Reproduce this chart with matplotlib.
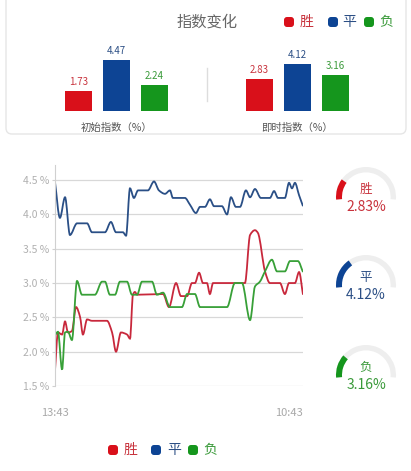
import matplotlib
matplotlib.use('Agg')
import matplotlib.pyplot as plt
from matplotlib.patches import FancyBboxPatch, Wedge, PathPatch
from matplotlib.path import Path

plt.rcParams['font.family'] = ['Noto Sans CJK SC', 'DejaVu Sans']

# series names and colours
names = ['胜', '平', '负']
bar_colors = ['#d9101a', '#0d4494', '#15961d']
text_colors = ['#c8323c', '#2c4f85', '#3a9a3a']
line_colors = ['#c8283c', '#2a4f86', '#38a038']

# bar values
init_vals = [1.73, 4.47, 2.24]
live_vals = [2.83, 4.12, 3.16]
group_labels = ['初始指数（%）', '即时指数（%）']

# time series, minutes after 13:43
red_t = [0, 15, 36, 51, 66, 86, 107, 127, 142, 163, 188, 264, 290, 310, 335, 366, 381, 396, 406, 417,
         549, 579, 615, 640, 671, 696, 711, 732, 752, 772, 787, 803, 965, 991, 1016, 1031, 1067, 1092,
         1143, 1168, 1189, 1219, 1240, 1260]
red_v = [1.73, 2.28, 2.25, 2.44, 2.28, 2.30, 2.65, 2.51, 2.25, 2.47, 2.45, 2.45, 2.28, 2.00, 2.28, 2.25, 2.19, 2.83, 2.87, 2.83,
         2.84, 2.65, 3.00, 2.81, 2.81, 3.00, 3.00, 3.15, 3.00, 3.00, 2.84, 3.00, 3.00, 3.70, 3.77, 3.73, 3.17, 3.00,
         3.00, 2.84, 3.00, 3.00, 3.16, 2.83]

blue_t = [0, 25, 51, 76, 112, 163, 188, 254, 284, 310, 345, 361, 381, 401, 422, 472, 503, 528, 559, 584,
          599, 660, 686, 716, 737, 762, 787, 808, 848, 874, 894, 919, 940, 970, 991, 1016, 1046, 1092, 1113, 1133,
          1168, 1189, 1204, 1219, 1240, 1260]
blue_v = [4.47, 3.95, 4.25, 3.70, 3.87, 3.87, 3.74, 3.74, 3.89, 3.74, 3.74, 3.69, 4.38, 4.24, 4.35, 4.35, 4.48, 4.35, 4.30, 4.35,
          4.24, 4.24, 4.14, 4.02, 4.11, 4.11, 4.22, 4.12, 4.12, 4.00, 4.25, 4.11, 4.11, 4.35, 4.25, 4.37, 4.24, 4.24, 4.34, 4.24,
          4.24, 4.46, 4.38, 4.46, 4.28, 4.12]

green_t = [0, 15, 36, 51, 66, 86, 112, 137, 203, 239, 254, 279, 305, 330, 366, 391, 417, 442, 493, 518,
           549, 584, 645, 671, 711, 737, 874, 914, 950, 991, 1016, 1041, 1067, 1102, 1128, 1168, 1194, 1234, 1260]
green_v = [2.24, 2.29, 1.74, 2.28, 2.29, 2.17, 3.03, 2.83, 2.83, 3.02, 3.02, 2.83, 2.83, 3.02, 3.02, 2.83, 2.83, 3.02, 3.02, 2.83,
           2.86, 2.65, 2.65, 2.84, 2.84, 2.65, 2.65, 3.00, 3.00, 2.46, 2.95, 3.02, 3.17, 3.34, 3.17, 3.17, 3.32, 3.32, 3.16]

y_ticks = [1.5, 2.0, 2.5, 3.0, 3.5, 4.0, 4.5]
x_ticks = [0, 1260]
x_labels = ['13:43', '10:43']


def smooth_path(t, v):
    # monotone cubic bezier through the points (same look as a smoothed line chart)
    n = len(t)
    d = [(v[i + 1] - v[i]) / (t[i + 1] - t[i]) for i in range(n - 1)]
    m = [d[0]] + [0.0] * (n - 2) + [d[-1]]
    for i in range(1, n - 1):
        if d[i - 1] * d[i] > 0:
            m[i] = 2 / (1 / d[i - 1] + 1 / d[i])
    verts = [(t[0], v[0])]
    codes = [Path.MOVETO]
    for i in range(n - 1):
        h = (t[i + 1] - t[i]) / 3
        verts += [(t[i] + h, v[i] + m[i] * h), (t[i + 1] - h, v[i + 1] - m[i + 1] * h), (t[i + 1], v[i + 1])]
        codes += [Path.CURVE4] * 3
    return Path(verts, codes)


W, H = 411, 471
fig = plt.figure(figsize=(W / 100, H / 100), dpi=100)
fig.patch.set_facecolor('white')

# background layer in pixel coordinates for panel decorations
bg = fig.add_axes([0, 0, 1, 1])
bg.set_xlim(0, W)
bg.set_ylim(H, 0)
bg.axis('off')
bg.add_patch(FancyBboxPatch((6, -10), 400, 144, boxstyle='round,pad=0,rounding_size=6',
                            fc='white', ec='#e6e6e6', lw=1.0))
bg.plot([207, 207], [68, 101], color='#dddddd', lw=1)
bg.text(207, 22, '指数变化', ha='center', va='center', fontsize=11, color='#666666')


def legend_row(ax, xs, y, size):
    for i, (xm, xt) in enumerate(xs):
        ax.add_patch(FancyBboxPatch((xm - 5, y - 5), 10, 10, boxstyle='round,pad=0,rounding_size=3',
                                    fc=bar_colors[i], ec='none'))
        ax.text(xt, y, names[i], ha='center', va='center', fontsize=size, color=text_colors[i])


legend_row(bg, [(289, 307), (333, 349), (369, 386)], 22, 10)
legend_row(bg, [(113, 131), (156, 174), (193, 210)], 450, 10)

# bar groups
for vals, left, lab in [(init_vals, 40.5, group_labels[0]), (live_vals, 221.5, group_labels[1])]:
    ax = fig.add_axes([left / W, 1 - 111 / H, 152 / W, 57 / H])
    bars = ax.bar([0, 1, 2], vals, width=0.71, color=bar_colors)
    for b, v, c in zip(bars, vals, text_colors):
        ax.annotate(f'{v:.2f}', (b.get_x() + b.get_width() / 2, v), xytext=(0, 3),
                    textcoords='offset points', ha='center', va='bottom', fontsize=7, color=c)
    ax.set_xlim(-1, 3)
    ax.set_ylim(0, 5)
    ax.axis('off')
    ax.text(0.5, -0.29, lab, transform=ax.transAxes, ha='center', va='center', fontsize=7.5, color='#555555')

# line chart
ax = fig.add_axes([55 / W, 1 - 386 / H, 248 / W, 221 / H])
for t, v, c in [(red_t, red_v, line_colors[0]), (green_t, green_v, line_colors[2]), (blue_t, blue_v, line_colors[1])]:
    ax.add_patch(PathPatch(smooth_path(t, v), fc='none', ec=c, lw=1.3))
ax.set_xlim(0, 1260)
ax.set_ylim(1.5, 4.72)
ax.set_yticks(y_ticks)
ax.set_yticklabels([f'{v:.1f} %' for v in y_ticks])
ax.yaxis.grid(True, color='#d8d8d8', lw=0.9)
ax.set_axisbelow(True)
for s in ['top', 'right', 'bottom']:
    ax.spines[s].set_visible(False)
ax.spines['left'].set_color('#d0d0d0')
ax.tick_params(axis='y', length=2, color='#d0d0d0', labelsize=7.5, labelcolor='#b0b0b0', pad=2)
ax.set_xticks(x_ticks)
ax.set_xticklabels(x_labels)
ax.tick_params(axis='x', length=0, labelsize=8, labelcolor='#a8a8a8', pad=16)
ax.get_xticklabels()[1].set_ha('right')

# gauges
for i, (cy, v) in enumerate(zip([197, 285, 375], live_vals)):
    g = fig.add_axes([(366 - 35) / W, 1 - (cy + 35) / H, 70 / W, 70 / H])
    g.set_xlim(-35 / 30, 35 / 30)
    g.set_ylim(-35 / 30, 35 / 30)
    g.axis('off')
    g.add_patch(Wedge((0, 0), 1, -5, 185, width=0.18, fc='#eeeeee', ec='none'))
    g.add_patch(Wedge((0, 0), 1, 185 - v * 14.5, 185, width=0.2, fc=bar_colors[i], ec='none'))
    g.text(0, 0.25, names[i], ha='center', va='center', fontsize=9, color=text_colors[i])
    g.text(0, -0.33, f'{v:.2f}%', ha='center', va='center', fontsize=10, color=text_colors[i])

fig.savefig('out.png', dpi=100)
